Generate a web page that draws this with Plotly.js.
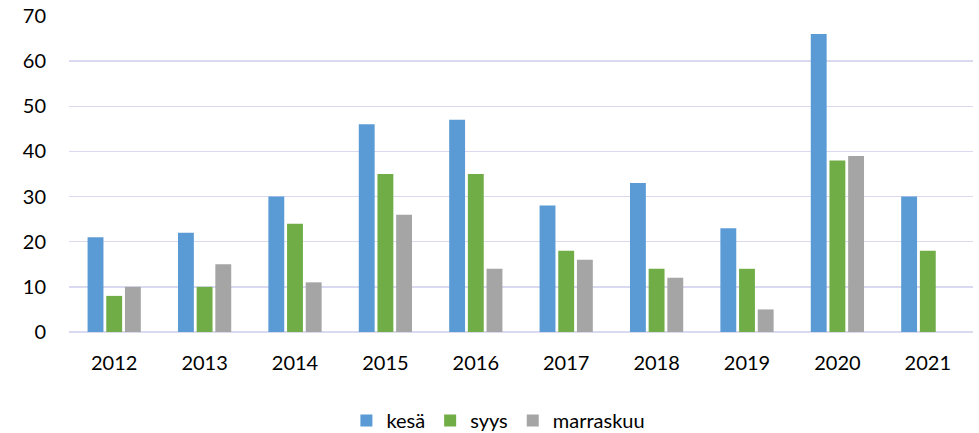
<!DOCTYPE html>
<html>
<head>
<meta charset="utf-8">
<script src="https://cdn.plot.ly/plotly-3.0.1.min.js"></script>
<style>html,body{margin:0;padding:0;background:#fff;}#chart{width:979px;height:433px;}</style>
</head>
<body>
<div id="chart"></div>
<script>
const years = ["2012","2013","2014","2015","2016","2017","2018","2019","2020","2021"];
const kesa = [21,22,30,46,47,28,33,23,66,30];
const syys = [8,10,24,35,35,18,14,14,38,18];
const marraskuu = [10,15,11,26,14,16,12,5,39,null];
const yTicks = [0,10,20,30,40,50,60,70];

const mk = (name, y, color) => ({
  type: 'bar', name: name, x: years, y: y,
  marker: {color: color, line: {width: 0}}
});
const data = [
  mk('kesä', kesa, '#5B9BD5'),
  mk('syys', syys, '#70AD47'),
  mk('marraskuu', marraskuu, '#A5A5A5')
];
const layout = {
  width: 979, height: 433,
  margin: {l: 69, r: 6, t: 16, b: 101, autoexpand: false},
  paper_bgcolor: '#ffffff', plot_bgcolor: '#ffffff',
  font: {family: 'Lato, "Open Sans", sans-serif', size: 20, color: '#000000'},
  barmode: 'group', bargap: 0.38, bargroupgap: 0.15,
  xaxis: {type: 'category', showgrid: false, showline: false, zeroline: false,
          ticks: '', ticklabelstandoff: 17, tickfont: {size: 20}},
  yaxis: {range: [0, 70], tickvals: yTicks, showgrid: true, gridcolor: '#D9D9F0', gridwidth: 1.5,
          zeroline: true, zerolinecolor: '#D9D9F0', zerolinewidth: 1.5, showline: false,
          ticks: '', ticklabelstandoff: 22, tickfont: {size: 20}},
  showlegend: true,
  legend: {orientation: 'h', x: 0.475, xanchor: 'center', y: -0.28, yanchor: 'middle',
           font: {size: 20}, itemwidth: 30, traceorder: 'normal'}
};
Plotly.newPlot('chart', data, layout, {displayModeBar: false, staticPlot: true});
</script>
</body>
</html>
